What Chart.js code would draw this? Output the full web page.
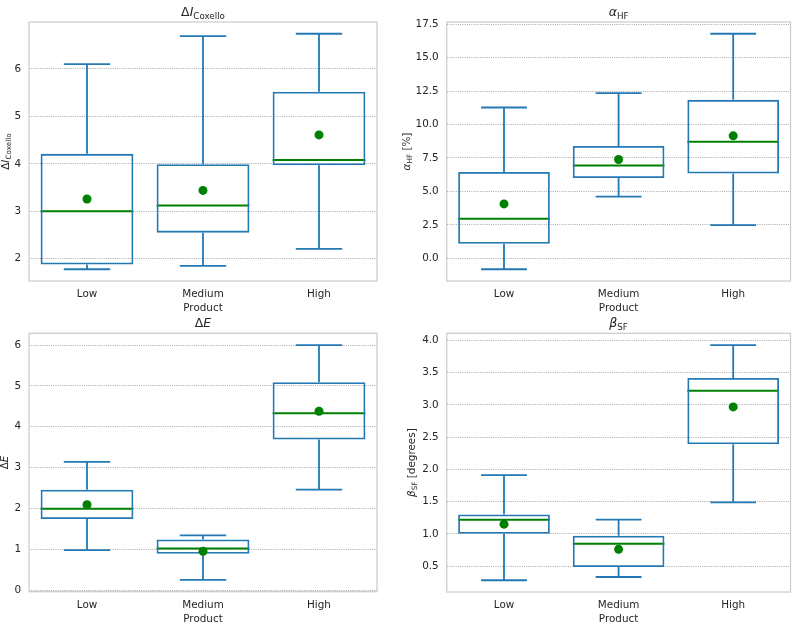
<!DOCTYPE html>
<html>
<head>
<meta charset="utf-8">
<script src="https://cdn.jsdelivr.net/npm/chart.js@4.4.1/dist/chart.umd.min.js"></script>
<style>
  body { margin: 0; background: #fff; }
  #wrap { position: relative; width: 795px; height: 623px; }
  canvas { position: absolute; left: 0; top: 0; }
</style>
</head>
<body>
<div id="wrap">
  <canvas id="c1" width="795" height="623"></canvas>
  <canvas id="c2" width="795" height="623"></canvas>
  <canvas id="c3" width="795" height="623"></canvas>
  <canvas id="c4" width="795" height="623"></canvas>
</div>
<script>
const categories = ["Low", "Medium", "High"];

// ΔI Coxello
const coxMin = [1.78, 1.85, 2.21];
const coxQ1 = [1.88, 2.55, 3.97];
const coxMed = [3.0, 3.12, 4.08];
const coxQ3 = [4.21, 3.99, 5.52];
const coxMax = [6.1, 6.69, 6.74];
const coxMean = [3.26, 3.44, 4.61];
const coxTicks = [2, 3, 4, 5, 6];

// alpha HF [%]
const hfMin = [-0.82, 4.6, 2.47];
const hfQ1 = [1.09, 6.0, 6.33];
const hfMed = [2.96, 6.93, 8.7];
const hfQ3 = [6.45, 8.4, 11.84];
const hfMax = [11.27, 12.35, 16.78];
const hfMean = [4.06, 7.38, 9.15];
const hfTicks = [0, 2.5, 5, 7.5, 10, 12.5, 15, 17.5];

// ΔE
const deMin = [0.98, 0.25, 2.46];
const deQ1 = [1.74, 0.89, 3.69];
const deMed = [1.99, 1.02, 4.33];
const deQ3 = [2.46, 1.24, 5.09];
const deMax = [3.14, 1.34, 6.0];
const deMean = [2.09, 0.95, 4.38];
const deTicks = [0, 1, 2, 3, 4, 5, 6];

// beta SF [degrees]
const sfMin = [0.28, 0.33, 1.49];
const sfQ1 = [1.0, 0.485, 2.39];
const sfMed = [1.22, 0.845, 3.22];
const sfQ3 = [1.3, 0.97, 3.42];
const sfMax = [1.91, 1.22, 3.93];
const sfMean = [1.15, 0.76, 2.97];
const sfTicks = [0.5, 1, 1.5, 2, 2.5, 3, 3.5, 4];

const BLUE = "#2479b5";
const GREEN = "#008000";
const TEXT = "#262626";
const FONT = "DejaVu Sans";
const FS = 10.4;

Chart.defaults.font.family = FONT;
Chart.defaults.font.size = FS;
Chart.defaults.color = TEXT;

// draws text with italic parts and subscripts, centered on x
function drawRich(ctx, segs, x, y, size, rotate) {
  const parts = segs.map((s) => {
    const fs = s.sub ? size * 0.7 : size;
    const font = (s.it ? "italic " : "") + fs + "px '" + FONT + "'";
    ctx.font = font;
    return { t: s.t, font: font, w: ctx.measureText(s.t).width, dy: s.sub ? size * 0.22 : 0 };
  });
  let total = 0;
  parts.forEach((p) => (total += p.w));
  ctx.save();
  ctx.translate(x, y);
  if (rotate) ctx.rotate(-Math.PI / 2);
  ctx.fillStyle = TEXT;
  ctx.textAlign = "left";
  ctx.textBaseline = "alphabetic";
  let cx = -total / 2;
  parts.forEach((p) => {
    ctx.font = p.font;
    ctx.fillText(p.t, cx, p.dy);
    cx += p.w;
  });
  ctx.restore();
}

const boxPlugin = {
  id: "boxWhisker",
  beforeDatasetsDraw(chart, args, opts) {
    const ctx = chart.ctx;
    const a = chart.chartArea;
    // frame
    ctx.save();
    ctx.strokeStyle = "#cccccc";
    ctx.lineWidth = 1.25;
    ctx.strokeRect(a.left, a.top, a.right - a.left, a.bottom - a.top);
    ctx.restore();

    const y = chart.scales.y;
    const meta = chart.getDatasetMeta(1);
    ctx.save();
    meta.data.forEach((bar, i) => {
      const x = bar.x;
      const half = bar.width / 2;
      const pMin = y.getPixelForValue(opts.min[i]);
      const pMax = y.getPixelForValue(opts.max[i]);
      const pQ1 = y.getPixelForValue(opts.q1[i]);
      const pQ3 = y.getPixelForValue(opts.q3[i]);
      const pMed = y.getPixelForValue(opts.med[i]);
      ctx.strokeStyle = BLUE;
      ctx.lineWidth = 1.8;
      ctx.beginPath();
      ctx.moveTo(x, pQ1);
      ctx.lineTo(x, pMin);
      ctx.moveTo(x, pQ3);
      ctx.lineTo(x, pMax);
      ctx.moveTo(x - half / 2, pMin);
      ctx.lineTo(x + half / 2, pMin);
      ctx.moveTo(x - half / 2, pMax);
      ctx.lineTo(x + half / 2, pMax);
      ctx.stroke();
      ctx.strokeStyle = GREEN;
      ctx.lineWidth = 2;
      ctx.beginPath();
      ctx.moveTo(x - half, pMed);
      ctx.lineTo(x + half, pMed);
      ctx.stroke();
    });
    ctx.restore();
  },
  afterDraw(chart, args, opts) {
    const ctx = chart.ctx;
    const a = chart.chartArea;
    const cx = (a.left + a.right) / 2;
    drawRich(ctx, opts.title, cx, a.top - 6, FS * 1.2, false);
    drawRich(ctx, opts.ylabel, opts.ylabelX, (a.top + a.bottom) / 2, FS, true);
    drawRich(ctx, [{ t: "Product" }], cx, a.bottom + 30, FS, false);
  },
};

function makePanel(id, s, area) {
  const YW = 40;
  const XH = 30;
  return new Chart(document.getElementById(id), {
    type: "bar",
    plugins: [boxPlugin],
    data: {
      labels: categories,
      datasets: [
        {
          type: "line",
          data: s.mean,
          showLine: false,
          pointRadius: 4.5,
          pointBackgroundColor: GREEN,
          pointBorderWidth: 0,
        },
        {
          data: s.q1.map((v, i) => [v, s.q3[i]]),
          backgroundColor: "rgba(0,0,0,0)",
          borderColor: BLUE,
          borderWidth: 1.8,
          borderSkipped: false,
          barPercentage: 0.8,
          categoryPercentage: 1.0,
        },
      ],
    },
    options: {
      responsive: false,
      animation: false,
      devicePixelRatio: 1,
      layout: {
        padding: {
          left: Math.max(0, area.left - YW),
          right: 795 - area.right,
          top: area.top,
          bottom: 623 - area.bottom - XH,
        },
      },
      plugins: {
        legend: { display: false },
        tooltip: { enabled: false },
        boxWhisker: {
          min: s.min, q1: s.q1, med: s.med, q3: s.q3, max: s.max,
          title: s.title, ylabel: s.ylabel, ylabelX: s.ylabelX,
        },
      },
      scales: {
        x: {
          grid: { display: false, drawTicks: false },
          border: { display: false },
          ticks: { padding: 7, color: TEXT },
          afterFit: (sc) => {
            sc.height = XH;
            sc.paddingLeft = 0;
            sc.paddingRight = 0;
          },
        },
        y: {
          min: s.yMin,
          max: s.yMax,
          grid: { color: "#aaaaaa", lineWidth: 1, drawTicks: false },
          border: { display: false, dash: [1, 1.2] },
          ticks: {
            padding: 8,
            color: TEXT,
            callback: (v) => s.fmt(v),
          },
          afterBuildTicks: (sc) => {
            sc.ticks = s.ticks.map((v) => ({ value: v }));
          },
          afterFit: (sc) => {
            sc.width = Math.min(YW, area.left);
            sc.paddingTop = 0;
            sc.paddingBottom = 0;
          },
        },
      },
    },
  });
}

makePanel("c1", {
  min: coxMin, q1: coxQ1, med: coxMed, q3: coxQ3, max: coxMax, mean: coxMean,
  ticks: coxTicks, fmt: (v) => v.toFixed(0), yMin: 1.532, yMax: 6.988,
  title: [{ t: "Δ" }, { t: "I", it: true }, { t: "Coxello", sub: true }],
  ylabel: [{ t: "Δ" }, { t: "I", it: true }, { t: "Coxello", sub: true }],
  ylabelX: 8.5,
}, { left: 29, right: 377, top: 22, bottom: 281 });

makePanel("c2", {
  min: hfMin, q1: hfQ1, med: hfMed, q3: hfQ3, max: hfMax, mean: hfMean,
  ticks: hfTicks, fmt: (v) => v.toFixed(1), yMin: -1.70, yMax: 17.66,
  title: [{ t: "α", it: true }, { t: "HF", sub: true }],
  ylabel: [{ t: "α", it: true }, { t: "HF", sub: true }, { t: " [%]" }],
  ylabelX: 410,
}, { left: 446.7, right: 794, top: 22, bottom: 281 });

makePanel("c3", {
  min: deMin, q1: deQ1, med: deMed, q3: deQ3, max: deMax, mean: deMean,
  ticks: deTicks, fmt: (v) => v.toFixed(0), yMin: -0.04, yMax: 6.29,
  title: [{ t: "Δ" }, { t: "E", it: true }],
  ylabel: [{ t: "Δ" }, { t: "E", it: true }],
  ylabelX: 8,
}, { left: 29, right: 377, top: 333.3, bottom: 591.7 });

makePanel("c4", {
  min: sfMin, q1: sfQ1, med: sfMed, q3: sfQ3, max: sfMax, mean: sfMean,
  ticks: sfTicks, fmt: (v) => v.toFixed(1), yMin: 0.0975, yMax: 4.1125,
  title: [{ t: "β", it: true }, { t: "SF", sub: true }],
  ylabel: [{ t: "β", it: true }, { t: "SF", sub: true }, { t: " [degrees]" }],
  ylabelX: 415,
}, { left: 446.7, right: 794, top: 333.3, bottom: 592 });
</script>
</body>
</html>
